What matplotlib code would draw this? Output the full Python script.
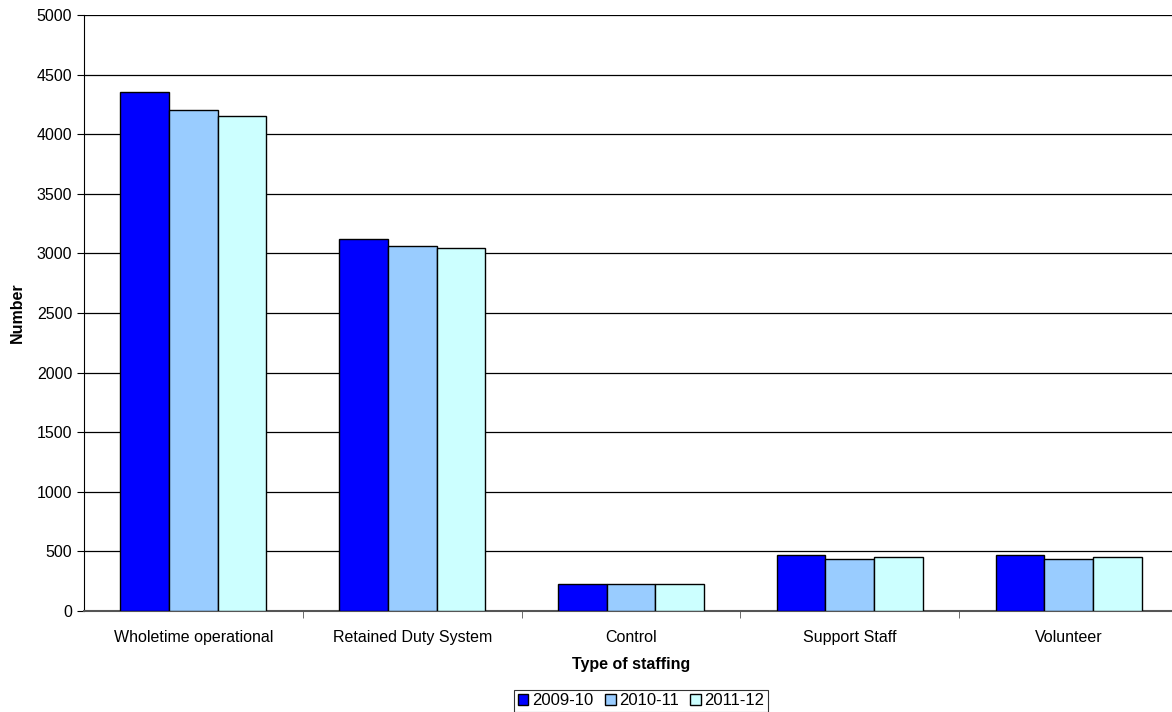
import numpy as np
import matplotlib
matplotlib.use("Agg")
import matplotlib.pyplot as plt

# data
categories = ["Wholetime operational", "Retained Duty System", "Control",
              "Support Staff", "Volunteer"]
years = ["2009-10", "2010-11", "2011-12"]
v_2009 = [4350, 3120, 230, 472, 472]
v_2010 = [4200, 3062, 230, 433, 433]
v_2011 = [4155, 3048, 230, 455, 455]
series = [v_2009, v_2010, v_2011]
colours = ["#0000FF", "#99CCFF", "#CCFFFF"]

plt.rcParams["font.family"] = ["Liberation Sans", "DejaVu Sans"]
fs = 11.5

fig = plt.figure(figsize=(11.72, 7.12), dpi=100)
ax = fig.add_axes([84 / 1172, 1 - 611 / 712, 1094 / 1172, 596 / 712])

x = np.arange(len(categories))
w = 2 / 9
for i, (vals, c, lab) in enumerate(zip(series, colours, years)):
    ax.bar(x + (i - 1) * w, vals, width=w, color=c, edgecolor="black",
           linewidth=1.0, label=lab, zorder=3)

ax.set_xlim(-0.5, len(categories) - 0.5)
ax.set_ylim(0, 5000)
ax.set_yticks(np.arange(0, 5001, 500))
ax.yaxis.grid(True, color="black", linewidth=0.9, zorder=0)
ax.set_axisbelow(True)

ax.set_xticks(x)
ax.set_xticklabels(categories, fontsize=fs)
ax.set_xticks(np.arange(0.5, len(categories) - 0.5, 1), minor=True)
ax.tick_params(axis="x", which="major", length=0, pad=14)
ax.tick_params(axis="x", which="minor", length=5, color="#555555")
ax.tick_params(axis="y", length=5, labelsize=fs)

for s in ["top", "right"]:
    ax.spines[s].set_visible(False)
ax.spines["left"].set_color("black")
ax.spines["bottom"].set_color("#555555")
ax.spines["bottom"].set_linewidth(1.5)

ax.set_ylabel("Number", fontsize=fs, fontweight="bold")
ax.yaxis.set_label_coords(-0.054, 0.5)
ax.set_xlabel("Type of staffing", fontsize=fs, fontweight="bold", labelpad=8)

leg = fig.legend(loc="upper center", bbox_to_anchor=(0.547, 0.031), ncol=3,
                 fontsize=fs + 0.5, frameon=True, fancybox=False,
                 edgecolor="black", handlelength=0.65, handleheight=0.65,
                 handletextpad=0.2, columnspacing=0.7, borderpad=0.2,
                 borderaxespad=0)
leg.get_frame().set_linewidth(0.8)

fig.savefig("out.png", dpi=100)
